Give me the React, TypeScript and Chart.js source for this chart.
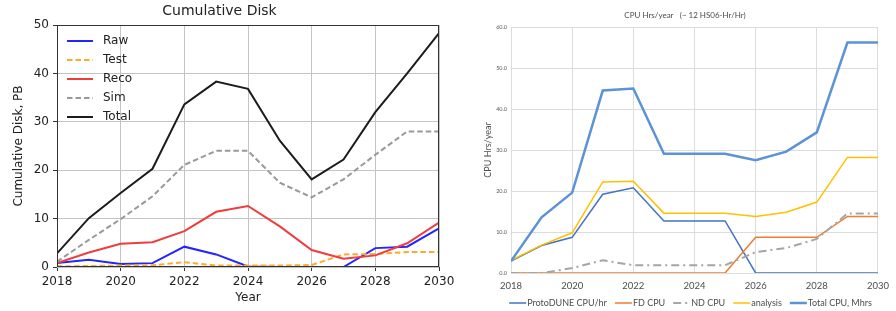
import React, { useEffect, useRef } from "react";
import { Chart, registerables } from "chart.js";

Chart.register(...registerables);

// ---------- data ----------
const years = [2018, 2019, 2020, 2021, 2022, 2023, 2024, 2025, 2026, 2027, 2028, 2029, 2030];

// Cumulative Disk, PB
const rawPB = [0.8, 1.5, 0.6, 0.8, 4.2, 2.6, 0.1, 0, 0, 0, 3.9, 4.2, 8.0];
const testPB = [0.15, 0.2, 0.3, 0.35, 1.0, 0.3, 0.3, 0.3, 0.4, 2.6, 2.7, 3.1, 3.1];
const recoPB = [0.8, 3.0, 4.8, 5.1, 7.4, 11.4, 12.6, 8.4, 3.5, 1.7, 2.4, 4.9, 9.2];
const simPB = [1.1, 5.6, 9.9, 14.6, 21.1, 24.0, 24.0, 17.4, 14.4, 18.1, 23.2, 28.0, 28.0];
const totalPB = [2.8, 10.1, 15.3, 20.3, 33.6, 38.3, 36.8, 26.1, 18.1, 22.2, 32.0, 40.0, 48.3];

// CPU Hrs/year
const protoDuneCpu = [2.9, 6.7, 8.7, 19.2, 20.8, 12.7, 12.7, 12.7, 0, 0, 0, 0, 0];
const fdCpu = [0, 0, 0, 0, 0, 0, 0, 0, 8.7, 8.7, 8.7, 13.8, 13.8];
const ndCpu = [0, 0, 1.2, 3.1, 1.9, 1.9, 1.9, 1.9, 5.1, 6.1, 8.3, 14.5, 14.5];
const analysisCpu = [3.1, 6.8, 9.8, 22.2, 22.4, 14.6, 14.6, 14.6, 13.8, 14.8, 17.3, 28.2, 28.2];
const totalCpu = [2.9, 13.6, 19.6, 44.5, 45.0, 29.1, 29.1, 29.1, 27.5, 29.6, 34.3, 56.2, 56.2];

const diskTitle = "Cumulative Disk";
const diskYTitle = "Cumulative Disk, PB";
const diskXTitle = "Year";
const cpuTitle = "CPU Hrs/year   (~ 12 HS06-Hr/Hr)";
const cpuYTitle = "CPU Hrs/year";

const toXY = (vals: number[]) => vals.map((v, i) => ({ x: years[i], y: v }));

// ---------- plugins ----------
const framePlugin = {
  id: "frame",
  afterDatasetsDraw(chart: any) {
    const { ctx, chartArea } = chart;
    const l = Math.round(chartArea.left) + 0.5;
    const t = Math.round(chartArea.top) + 0.5;
    const r = Math.round(chartArea.right) - 0.5;
    const b = Math.round(chartArea.bottom) - 0.5;
    ctx.save();
    ctx.strokeStyle = "#333";
    ctx.lineWidth = 1;
    ctx.strokeRect(l, t, r - l, b - t);
    ctx.restore();
  },
};

// legend drawn from the chart's own datasets (labels, colours, dashes)
const lineLegend = {
  id: "lineLegend",
  afterDraw(chart: any, _args: any, opts: any) {
    const { ctx, chartArea } = chart;
    const ds = chart.data.datasets;
    ctx.save();
    ctx.font = `${opts.fontSize}px "${opts.family}"`;
    ctx.textBaseline = "middle";
    ctx.textAlign = "left";
    const drawSample = (x: number, y: number, d: any) => {
      ctx.beginPath();
      ctx.strokeStyle = d.borderColor;
      ctx.lineWidth = d.borderWidth;
      ctx.setLineDash(d.borderDash || []);
      ctx.moveTo(x, y);
      ctx.lineTo(x + opts.lineLen, y);
      ctx.stroke();
      ctx.setLineDash([]);
    };
    if (opts.vertical) {
      const x = chartArea.left + opts.offsetX;
      let y = chartArea.top + opts.offsetY;
      ds.forEach((d: any) => {
        drawSample(x, y, d);
        ctx.fillStyle = opts.color;
        ctx.fillText(d.label, x + opts.lineLen + opts.gap, y);
        y += opts.rowH;
      });
    } else {
      const widths = ds.map((d: any) => opts.lineLen + opts.gap + ctx.measureText(d.label).width);
      const total = widths.reduce((a: number, b: number) => a + b, 0) + opts.itemGap * (ds.length - 1);
      let x = opts.centerX - total / 2;
      const y = opts.y;
      ds.forEach((d: any, i: number) => {
        drawSample(x, y, d);
        ctx.fillStyle = opts.color;
        ctx.fillText(d.label, x + opts.lineLen + opts.gap, y);
        x += widths[i] + opts.itemGap;
      });
    }
    ctx.restore();
  },
};

const mplFont = (size: number) => ({ family: "DejaVu Sans", size, weight: "normal" as const });
const xlFont = (size: number) => ({ family: "Lato", size, weight: "normal" as const });

function diskConfig(): any {
  return {
    type: "line",
    data: {
      datasets: [
        { label: "Raw", data: toXY(rawPB), borderColor: "#2424ff", borderWidth: 2, order: 4 },
        { label: "Test", data: toXY(testPB), borderColor: "#ffaa2e", borderWidth: 2, borderDash: [5.5, 3], order: 3 },
        { label: "Reco", data: toXY(recoPB), borderColor: "#f03c3c", borderWidth: 2, order: 2 },
        { label: "Sim", data: toXY(simPB), borderColor: "#999999", borderWidth: 2, borderDash: [5.5, 3], order: 1 },
        { label: "Total", data: toXY(totalPB), borderColor: "#1c1c1c", borderWidth: 2, order: 0 },
      ],
    },
    options: {
      responsive: false,
      animation: false,
      devicePixelRatio: 1,
      layout: { autoPadding: false, padding: { left: 0, right: 31, top: 0, bottom: 0 } },
      elements: { point: { radius: 0 }, line: { tension: 0, fill: false } },
      scales: {
        x: {
          type: "linear",
          min: 2018,
          max: 2030,
          ticks: { stepSize: 2, callback: (v: number) => String(v), font: mplFont(12), color: "#222", padding: 4, maxRotation: 0, autoSkip: false },
          grid: { color: "#c4c4c4", tickColor: "#333", tickLength: 4, lineWidth: 1 },
          border: { display: false },
          title: { display: true, text: diskXTitle, font: mplFont(12), color: "#222", padding: { top: 0, bottom: 6 } },
          afterFit: (s: any) => { s.height = 44; },
        },
        y: {
          min: 0,
          max: 50,
          ticks: { stepSize: 10, font: mplFont(12), color: "#222", padding: 4 },
          grid: { color: "#c4c4c4", tickColor: "#333", tickLength: 4, lineWidth: 1 },
          border: { display: false },
          title: { display: true, text: diskYTitle, font: mplFont(12), color: "#222", padding: { top: 12, bottom: 0 } },
          afterFit: (s: any) => { s.width = 57; },
        },
      },
      plugins: {
        title: { display: true, text: diskTitle, font: mplFont(14), color: "#222", padding: { top: 2.6, bottom: 5.6 } },
        legend: { display: false },
        tooltip: { enabled: false },
        lineLegend: { vertical: true, offsetX: 10, offsetY: 16, rowH: 19, lineLen: 26, gap: 10, fontSize: 12, family: "DejaVu Sans", color: "#222" },
      },
    },
    plugins: [framePlugin, lineLegend],
  };
}

function cpuConfig(): any {
  return {
    type: "line",
    data: {
      datasets: [
        { label: "ProtoDUNE CPU/hr", data: toXY(protoDuneCpu), borderColor: "#4472c4", borderWidth: 1.5, order: 4 },
        { label: "FD CPU", data: toXY(fdCpu), borderColor: "#ed7d31", borderWidth: 1.5, order: 3 },
        { label: "ND CPU", data: toXY(ndCpu), borderColor: "#a5a5a5", borderWidth: 2, borderDash: [8, 4, 2, 4], order: 2 },
        { label: "analysis", data: toXY(analysisCpu), borderColor: "#ffc000", borderWidth: 1.5, order: 1 },
        { label: "Total CPU, Mhrs", data: toXY(totalCpu), borderColor: "#5b93d6", borderWidth: 2.5, order: 0 },
      ],
    },
    options: {
      responsive: false,
      animation: false,
      devicePixelRatio: 1,
      layout: { autoPadding: false, padding: { left: 0, right: 8, top: 0, bottom: 0 } },
      elements: { point: { radius: 0 }, line: { tension: 0, fill: false } },
      scales: {
        x: {
          type: "linear",
          min: 2018,
          max: 2030,
          ticks: { stepSize: 2, callback: (v: number) => String(v), font: xlFont(9.5), color: "#4d4d4d", padding: 7, maxRotation: 0, autoSkip: false },
          grid: { color: "#dcdcdc", drawTicks: false, lineWidth: 1 },
          border: { display: false },
          afterFit: (s: any) => { s.height = 38; },
        },
        y: {
          min: 0,
          max: 60,
          ticks: { stepSize: 10, callback: (v: number) => v.toFixed(1), font: xlFont(5.5), color: "#595959", padding: 4 },
          grid: { color: "#dcdcdc", drawTicks: false, lineWidth: 1 },
          border: { display: false },
          title: { display: true, text: cpuYTitle, font: xlFont(9), color: "#4d4d4d", padding: { top: 1, bottom: 0 } },
          afterFit: (s: any) => { s.width = 29; },
        },
      },
      plugins: {
        title: { display: true, text: cpuTitle, font: xlFont(8), color: "#4d4d4d", padding: { top: 10.2, bottom: 7.2 } },
        legend: { display: false },
        tooltip: { enabled: false },
        lineLegend: { vertical: false, centerX: 208.5, y: 303, lineLen: 17, gap: 1, itemGap: 8, fontSize: 9, family: "Lato", color: "#4d4d4d" },
      },
    },
    plugins: [lineLegend],
  };
}

function ChartCanvas({ make, left, width, height }: { make: () => any; left: number; width: number; height: number }) {
  const ref = useRef<HTMLCanvasElement>(null);
  useEffect(() => {
    const chart = new Chart(ref.current as HTMLCanvasElement, make());
    return () => chart.destroy();
  }, []);
  return (
    <canvas
      ref={ref}
      width={width}
      height={height}
      style={{ position: "absolute", left, top: 0, width, height, display: "block" }}
    />
  );
}

export default function App() {
  return (
    <div style={{ position: "fixed", left: 0, top: 0, width: 896, height: 311, background: "#fff", overflow: "hidden" }}>
      <ChartCanvas make={diskConfig} left={0} width={470} height={311} />
      <ChartCanvas make={cpuConfig} left={482} width={414} height={311} />
    </div>
  );
}
